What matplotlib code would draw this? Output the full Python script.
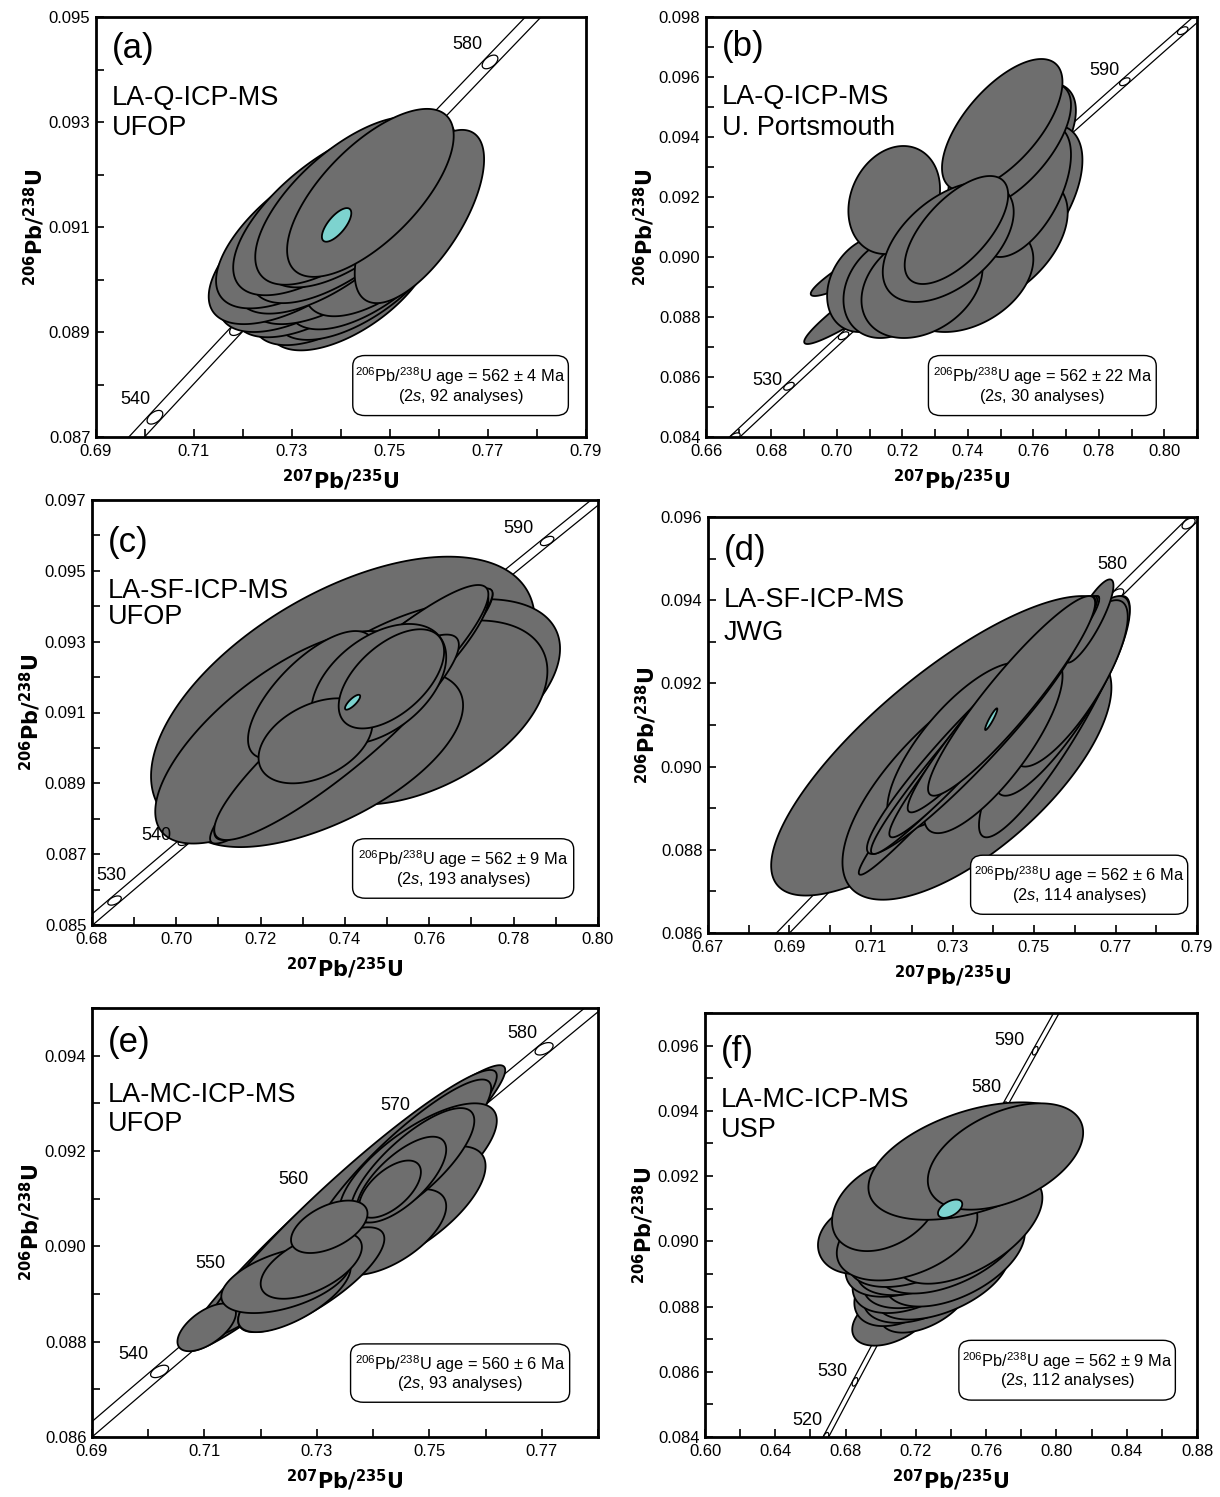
import numpy as np
import matplotlib
matplotlib.use("Agg")
import matplotlib.pyplot as plt
from matplotlib.patches import Polygon, FancyBboxPatch
from matplotlib.ticker import FixedLocator, FormatStrFormatter

plt.rcParams["font.family"] = ["Liberation Sans", "DejaVu Sans"]
plt.rcParams["mathtext.fontset"] = "custom"
plt.rcParams["mathtext.rm"] = "Liberation Sans"
plt.rcParams["mathtext.it"] = "Liberation Sans:italic"
plt.rcParams["mathtext.bf"] = "DejaVu Sans:bold"

# U decay constants (1/yr)
LAMBDA_238 = 1.55125e-10
LAMBDA_235 = 9.8485e-10

# ---------------------------------------------------------------------------
# Error ellipses: (207Pb/235U, 2s, 206Pb/238U, 2s, rho), drawn back to front
# ---------------------------------------------------------------------------
ellipses_a = [
    (0.7420, 0.0170, 0.08995, 0.00130, 0.60),
    (0.7400, 0.0180, 0.09010, 0.00135, 0.62),
    (0.7440, 0.0175, 0.09020, 0.00135, 0.62),
    (0.7370, 0.0190, 0.09030, 0.00140, 0.63),
    (0.7460, 0.0170, 0.09040, 0.00135, 0.62),
    (0.7350, 0.0200, 0.09045, 0.00145, 0.64),
    (0.7400, 0.0190, 0.09055, 0.00140, 0.64),
    (0.7335, 0.0205, 0.09065, 0.00150, 0.65),
    (0.7490, 0.0165, 0.09070, 0.00140, 0.63),
    (0.7380, 0.0195, 0.09085, 0.00150, 0.65),
    (0.7350, 0.0205, 0.09100, 0.00155, 0.66),
    (0.7410, 0.0195, 0.09110, 0.00155, 0.66),
    (0.7380, 0.0200, 0.09130, 0.00160, 0.67),
    (0.7440, 0.0195, 0.09150, 0.00165, 0.67),
    (0.7560, 0.0132, 0.09120, 0.00165, 0.66),
    (0.7410, 0.0185, 0.09150, 0.00160, 0.67),
    (0.7460, 0.0170, 0.09165, 0.00160, 0.68),
]
mean_a = (0.7391, 0.0030, 0.09104, 0.00032, 0.70)

ellipses_b = [
    (0.7150, 0.0250, 0.08900, 0.00190, 0.96),
    (0.7160, 0.0240, 0.09020, 0.00150, 0.95),
    (0.7535, 0.0195, 0.09350, 0.00230, 0.60),
    (0.7560, 0.0190, 0.09180, 0.00260, 0.55),
    (0.7490, 0.0215, 0.09050, 0.00220, 0.45),
    (0.7400, 0.0200, 0.08930, 0.00180, 0.35),
    (0.7100, 0.0130, 0.08910, 0.00160, 0.25),
    (0.7170, 0.0150, 0.08900, 0.00170, 0.25),
    (0.7260, 0.0185, 0.08910, 0.00180, 0.30),
    (0.7575, 0.0140, 0.09220, 0.00220, 0.55),
    (0.7540, 0.0175, 0.09370, 0.00210, 0.65),
    (0.7505, 0.0184, 0.09440, 0.00220, 0.65),
    (0.7175, 0.0140, 0.09190, 0.00180, 0.20),
    (0.7340, 0.0200, 0.09050, 0.00200, 0.50),
    (0.7365, 0.0158, 0.09090, 0.00180, 0.65),
]
mean_b = None

ellipses_c = [
    (0.7395, 0.0455, 0.09140, 0.00400, 0.55),
    (0.7560, 0.0350, 0.09140, 0.00280, 0.50),
    (0.7580, 0.0300, 0.09100, 0.00260, 0.45),
    (0.7350, 0.0330, 0.08970, 0.00250, 0.60),
    (0.7250, 0.0300, 0.09030, 0.00300, 0.70),
    (0.7430, 0.0320, 0.09110, 0.00340, 0.95),
    (0.7415, 0.0335, 0.09090, 0.00360, 0.96),
    (0.7400, 0.0310, 0.09070, 0.00330, 0.93),
    (0.7460, 0.0280, 0.09150, 0.00300, 0.90),
    (0.7440, 0.0300, 0.09130, 0.00330, 0.92),
    (0.7380, 0.0290, 0.09030, 0.00290, 0.90),
    (0.7320, 0.0150, 0.09150, 0.00180, 0.70),
    (0.7480, 0.0160, 0.09180, 0.00170, 0.45),
    (0.7330, 0.0135, 0.09020, 0.00120, 0.40),
    (0.7510, 0.0125, 0.09195, 0.00140, 0.55),
]
mean_c = (0.7418, 0.0018, 0.09129, 0.00021, 0.80)

ellipses_d = [
    (0.7280, 0.0425, 0.09050, 0.00360, 0.80),
    (0.7360, 0.0330, 0.08980, 0.00300, 0.70),
    (0.7550, 0.0185, 0.09120, 0.00290, 0.90),
    (0.7570, 0.0165, 0.09170, 0.00240, 0.85),
    (0.7590, 0.0140, 0.09200, 0.00200, 0.80),
    (0.7635, 0.0060, 0.09350, 0.00100, 0.85),
    (0.7320, 0.0180, 0.09050, 0.00200, 0.75),
    (0.7400, 0.0170, 0.09050, 0.00210, 0.80),
    (0.7365, 0.0295, 0.09075, 0.00335, 0.985),
    (0.7350, 0.0260, 0.09060, 0.00270, 0.95),
    (0.7380, 0.0280, 0.09100, 0.00310, 0.975),
    (0.7400, 0.0255, 0.09120, 0.00290, 0.97),
    (0.7420, 0.0230, 0.09150, 0.00260, 0.96),
    (0.7445, 0.0205, 0.09170, 0.00240, 0.93),
]
mean_d = (0.7395, 0.0015, 0.09114, 0.00026, 0.93)

ellipses_e = [
    (0.7350, 0.0285, 0.09080, 0.00300, 0.965),
    (0.7360, 0.0260, 0.09090, 0.00280, 0.955),
    (0.7450, 0.0160, 0.09170, 0.00180, 0.90),
    (0.7480, 0.0140, 0.09170, 0.00130, 0.72),
    (0.7460, 0.0140, 0.09080, 0.00130, 0.68),
    (0.7430, 0.0100, 0.09030, 0.00090, 0.60),
    (0.7290, 0.0130, 0.08930, 0.00110, 0.78),
    (0.7260, 0.0100, 0.08900, 0.00080, 0.68),
    (0.7104, 0.0052, 0.08830, 0.00050, 0.60),
    (0.7470, 0.0110, 0.09170, 0.00120, 0.78),
    (0.7450, 0.0080, 0.09140, 0.00090, 0.70),
    (0.7430, 0.0055, 0.09120, 0.00060, 0.60),
    (0.7245, 0.0115, 0.08930, 0.00070, 0.50),
    (0.7290, 0.0090, 0.08960, 0.00070, 0.55),
    (0.7322, 0.0068, 0.09041, 0.00055, 0.50),
]
mean_e = None

ellipses_f = [
    (0.7068, 0.0230, 0.08770, 0.00090, 0.45),
    (0.7252, 0.0256, 0.08820, 0.00100, 0.50),
    (0.7150, 0.0300, 0.08870, 0.00130, 0.45),
    (0.7250, 0.0350, 0.08880, 0.00130, 0.45),
    (0.7350, 0.0380, 0.08890, 0.00130, 0.50),
    (0.7200, 0.0360, 0.08920, 0.00140, 0.45),
    (0.7300, 0.0400, 0.08935, 0.00140, 0.50),
    (0.7420, 0.0400, 0.08950, 0.00150, 0.50),
    (0.7180, 0.0380, 0.08970, 0.00140, 0.45),
    (0.7280, 0.0420, 0.08985, 0.00150, 0.50),
    (0.7400, 0.0430, 0.09000, 0.00160, 0.50),
    (0.7250, 0.0440, 0.09020, 0.00160, 0.50),
    (0.7500, 0.0420, 0.09040, 0.00170, 0.55),
    (0.6900, 0.0257, 0.09010, 0.00110, 0.20),
    (0.7150, 0.0400, 0.09020, 0.00140, 0.40),
    (0.7030, 0.0307, 0.09110, 0.00140, 0.35),
    (0.7530, 0.0600, 0.09246, 0.00180, 0.45),
    (0.7710, 0.0442, 0.09260, 0.00163, 0.45),
]
mean_f = (0.7395, 0.0069, 0.09100, 0.00028, 0.50)

# Concordia age ticks (Ma) and the ones that carry a label
concordia_ticks = [510, 520, 530, 540, 550, 560, 570, 580, 590, 600, 610]
labelled_ages = {
    "a": [540, 580],
    "b": [530, 590],
    "c": [530, 540, 590],
    "d": [580],
    "e": [540, 550, 560, 570, 580],
    "f": [520, 530, 580, 590],
}

# Laboratory labels and weighted-mean summaries
titles = {
    "a": ("LA-Q-ICP-MS", "UFOP"),
    "b": ("LA-Q-ICP-MS", "U. Portsmouth"),
    "c": ("LA-SF-ICP-MS", "UFOP"),
    "d": ("LA-SF-ICP-MS", "JWG"),
    "e": ("LA-MC-ICP-MS", "UFOP"),
    "f": ("LA-MC-ICP-MS", "USP"),
}
ages = {"a": "562 ± 4", "b": "562 ± 22", "c": "562 ± 9",
        "d": "562 ± 6", "e": "560 ± 6", "f": "562 ± 9"}
n_analyses = {"a": 92, "b": 30, "c": 193, "d": 114, "e": 93, "f": 112}

ellipse_sets = {"a": ellipses_a, "b": ellipses_b, "c": ellipses_c,
                "d": ellipses_d, "e": ellipses_e, "f": ellipses_f}
mean_sets = {"a": mean_a, "b": mean_b, "c": mean_c,
             "d": mean_d, "e": mean_e, "f": mean_f}

# ---------------------------------------------------------------------------
# Layout (figure pixels: left, top, right, bottom) and axis settings
# ---------------------------------------------------------------------------
W, H = 1220, 1497
layout = {
    "a": dict(box=(96, 17, 586, 437), xlim=(0.69, 0.79), ylim=(0.087, 0.095),
              xstep=0.02, ystep=0.002, text_y=(0.926, 0.808, 0.736),
              sbox=(0.524, 0.051, 0.964, 0.194)),
    "b": dict(box=(706, 17, 1197, 437), xlim=(0.66, 0.81), ylim=(0.084, 0.098),
              xstep=0.02, ystep=0.002, text_y=(0.930, 0.810, 0.735),
              sbox=(0.453, 0.051, 0.917, 0.194)),
    "c": dict(box=(92, 500, 598, 925), xlim=(0.68, 0.80), ylim=(0.085, 0.097),
              xstep=0.02, ystep=0.002, text_y=(0.900, 0.787, 0.725),
              sbox=(0.515, 0.063, 0.952, 0.203)),
    "d": dict(box=(708, 517, 1197, 933), xlim=(0.67, 0.79), ylim=(0.086, 0.096),
              xstep=0.02, ystep=0.002, text_y=(0.920, 0.800, 0.720),
              sbox=(0.537, 0.045, 0.981, 0.187)),
    "e": dict(box=(92, 1008, 598, 1437), xlim=(0.69, 0.78), ylim=(0.086, 0.095),
              xstep=0.02, ystep=0.002, text_y=(0.920, 0.797, 0.730),
              sbox=(0.511, 0.081, 0.944, 0.217)),
    "f": dict(box=(705, 1013, 1197, 1437), xlim=(0.60, 0.88), ylim=(0.084, 0.097),
              xstep=0.04, ystep=0.002, text_y=(0.909, 0.795, 0.724),
              sbox=(0.516, 0.087, 0.956, 0.228)),
}

# Offsets (pixels) of concordia age labels from their tick
label_offsets = {
    "a": {540: (-20, 18), 580: (-23, 17)},
    "b": {530: (-22, 6), 590: (-20, 11)},
    "c": {530: (-3, 25), 540: (-28, 5), 590: (-29, 12)},
    "d": {580: (-5, 30)},
    "e": {540: (-26, 17), 550: (-44, 27), 560: (-57, 31), 570: (-51, 24), 580: (-22, 15)},
    "f": {520: (-19, 16), 530: (-23, 10), 580: (-18, 19), 590: (-26, 10)},
}

GREY = "#6e6e6e"
CYAN = "#7dd3cf"
BAND_HALF = 0.0016          # half-width of the decay-constant envelope in 207/235


def concordia(t_ma):
    t = np.asarray(t_ma, dtype=float) * 1e6
    return np.expm1(LAMBDA_235 * t), np.expm1(LAMBDA_238 * t)


def ellipse_xy(x, sx, y, sy, rho, n=240):
    th = np.linspace(0, 2 * np.pi, n)
    ex = x + sx * np.cos(th)
    ey = y + sy * (rho * np.cos(th) + np.sqrt(1 - rho ** 2) * np.sin(th))
    return np.column_stack([ex, ey])


def ticks_from(lo, hi, step):
    n = int(round((hi - lo) / step))
    return [round(lo + i * step, 4) for i in range(n + 1) if lo + i * step <= hi + 1e-9]


xlabel = r"$^{\mathbf{207}}\mathbf{Pb/}^{\mathbf{235}}\mathbf{U}$"
ylabel = r"$^{\mathbf{206}}\mathbf{Pb/}^{\mathbf{238}}\mathbf{U}$"

fig = plt.figure(figsize=(W / 100, H / 100), dpi=100)

for key in "abcdef":
    L = layout[key]
    l, t, r, b = L["box"]
    ax = fig.add_axes([l / W, 1 - b / H, (r - l) / W, (b - t) / H])
    x0, x1 = L["xlim"]
    y0, y1 = L["ylim"]
    ax.set_xlim(x0, x1)
    ax.set_ylim(y0, y1)

    # concordia envelope
    tt = np.linspace(460, 660, 800)
    cx, cy = concordia(tt)
    ax.plot(cx - BAND_HALF, cy, color="black", lw=0.9, zorder=1)
    ax.plot(cx + BAND_HALF, cy, color="black", lw=0.9, zorder=1)
    for age in concordia_ticks:
        mx, my = concordia(age)
        ax.add_patch(Polygon(ellipse_xy(mx, 0.0016, my, 0.00013, 0.5),
                             closed=True, fc="white", ec="black", lw=0.9, zorder=2))

    # analyses
    for i, (ex, sx, ey, sy, rho) in enumerate(ellipse_sets[key]):
        ax.add_patch(Polygon(ellipse_xy(ex, sx, ey, sy, rho), closed=True,
                             fc=GREY, ec="black", lw=1.3, zorder=3 + i * 0.01))
    mean = mean_sets[key]
    if mean is not None:
        ax.add_patch(Polygon(ellipse_xy(*mean), closed=True, fc=CYAN,
                             ec="black", lw=1.3, zorder=5))

    # age labels
    for age in labelled_ages[key]:
        mx, my = concordia(age)
        ax.annotate(str(age), xy=(float(mx), float(my)),
                    xytext=label_offsets[key][age], textcoords="offset pixels",
                    ha="center", va="center", fontsize=13, zorder=6)

    # panel texts
    ty = L["text_y"]
    ax.text(0.032, ty[0], f"({key})", transform=ax.transAxes, fontsize=25,
            ha="left", va="center", zorder=7)
    ax.text(0.032, ty[1], titles[key][0], transform=ax.transAxes, fontsize=19.5,
            ha="left", va="center", zorder=7)
    ax.text(0.032, ty[2], titles[key][1], transform=ax.transAxes, fontsize=19.5,
            ha="left", va="center", zorder=7)

    bx0, by0, bx1, by1 = L["sbox"]
    ax.add_patch(FancyBboxPatch((bx0, by0), bx1 - bx0, by1 - by0,
                                boxstyle="round,pad=0,rounding_size=0.025",
                                transform=ax.transAxes, fc="white", ec="black",
                                lw=1.0, zorder=7))
    bxc = (bx0 + bx1) / 2
    bh = by1 - by0
    ax.text(bxc, by0 + bh * 0.66,
            r"$^{206}$Pb/$^{238}$U age = " + ages[key] + " Ma",
            transform=ax.transAxes, ha="center", va="center", fontsize=11.8, zorder=8)
    ax.text(bxc, by0 + bh * 0.32,
            r"(2$\mathit{s}$, " + f"{n_analyses[key]} analyses)",
            transform=ax.transAxes, ha="center", va="center", fontsize=11.8, zorder=8)

    # axes styling
    ax.xaxis.set_major_locator(FixedLocator(ticks_from(x0, x1, L["xstep"])))
    ax.xaxis.set_minor_locator(FixedLocator(ticks_from(x0, x1, L["xstep"] / 2)))
    ax.yaxis.set_major_locator(FixedLocator(ticks_from(y0, y1, L["ystep"])))
    ax.yaxis.set_minor_locator(FixedLocator(ticks_from(y0, y1, L["ystep"] / 2)))
    ax.xaxis.set_major_formatter(FormatStrFormatter("%.2f"))
    ax.yaxis.set_major_formatter(FormatStrFormatter("%.3f"))
    ax.tick_params(which="both", direction="in", length=6, width=1.2,
                   top=False, right=False, labelsize=12)
    ax.tick_params(axis="x", which="both", pad=5)
    ax.tick_params(axis="y", which="both", pad=4)
    for s in ax.spines.values():
        s.set_linewidth(2.0)
    ax.set_xlabel(xlabel, fontsize=15, labelpad=6)
    ax.set_ylabel(ylabel, fontsize=15, labelpad=1)

fig.savefig("out.png", dpi=100)
